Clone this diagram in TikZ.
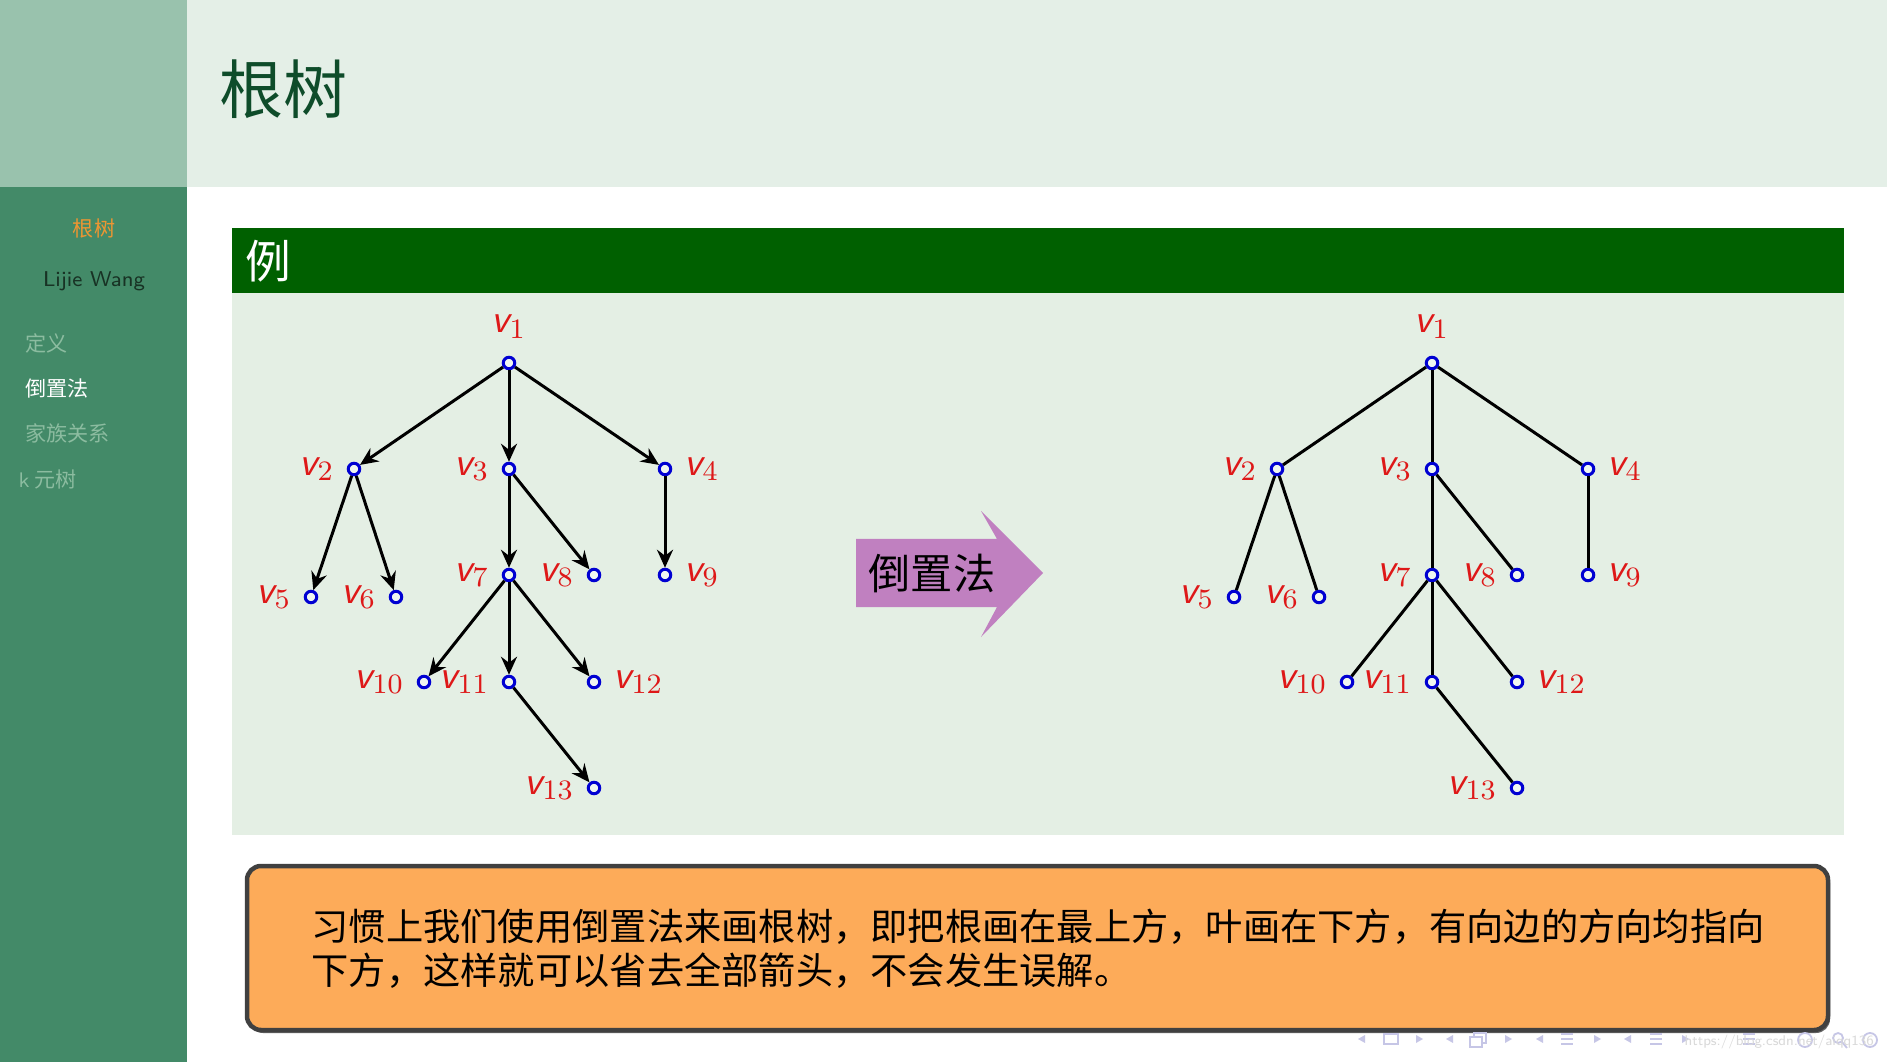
\documentclass[tikz,border=0pt]{standalone}
\usepackage{fontspec}
\newfontfamily\cjk{Noto Sans CJK SC}
\usetikzlibrary{arrows.meta}

\definecolor{sidetop}{RGB}{153,194,173}
\definecolor{sidebot}{RGB}{67,138,104}
\definecolor{headbg}{RGB}{228,239,231}
\definecolor{titlegreen}{RGB}{14,76,42}
\definecolor{blocktitle}{RGB}{0,96,0}
\definecolor{blockbody}{RGB}{228,239,228}
\definecolor{labelred}{RGB}{222,24,24}
\definecolor{nodeblue}{RGB}{0,0,210}
\definecolor{arrowpink}{RGB}{192,128,192}
\definecolor{alertfill}{RGB}{253,171,89}
\definecolor{alertdraw}{RGB}{64,64,64}
\definecolor{navgray}{RGB}{198,198,230}
\definecolor{fadedgreen}{RGB}{140,188,160}
\definecolor{sideorange}{RGB}{236,150,50}
\definecolor{authorink}{RGB}{24,50,36}

\newcommand{\vname}[1]{$\textsf{\itshape v}_{#1}$}

\tikzset{
  vert/.style={circle, draw=nodeblue, line width=0.3mm, fill=white!45!blockbody,
    inner sep=0pt, minimum size=1.15mm},
  vlabel/.style={text=labelred, font=\fontsize{11.4pt}{13pt}\selectfont},
  arrowedge/.style={line width=0.3mm, -{Stealth[length=1.8mm,width=1.6mm,inset=0.6mm]}},
  plainedge/.style={line width=0.3mm},
  sideitem/.style={anchor=west, inner sep=0pt, text=fadedgreen, font=\cjk\fontsize{6pt}{7pt}\selectfont},
}

\begin{document}
\begin{tikzpicture}[x=0.1mm, y=-0.1mm]
    \useasboundingbox (0,0) rectangle (1887,1062);
    \fill[white] (0,0) rectangle (1887,1062);

    % Frame title and sidebar
    \fill[sidetop] (0,0) rectangle (187,187);
    \fill[sidebot] (0,187) rectangle (187,1062);
    \fill[headbg] (187,0) rectangle (1887,187);
    \node[anchor=west, inner sep=0pt, text=titlegreen, font=\cjk\fontsize{18.2pt}{20pt}\selectfont] (title) at (219,89) {根树};

    \node[inner sep=0pt, text=sideorange, font=\cjk\fontsize{6pt}{7pt}\selectfont] (sbtitle) at (94,228) {根树};
    \node[anchor=base, inner sep=0pt, text=authorink, font=\sffamily\fontsize{6.1pt}{7pt}\selectfont] (sbauthor) at (94,287) {Lijie Wang};
    \node[sideitem] (sbdef) at (25,343) {定义};
    \node[sideitem, text=white] (sbinv) at (25,388) {倒置法};
    \node[sideitem] (sbfam) at (25,433) {家族关系};
    \node[sideitem] (sbkary) at (18,479) {{\sffamily k} 元树};

    % Example block
    \fill[blocktitle] (232,228) rectangle (1844,293);
    \fill[blockbody] (232,293) rectangle (1844,835);
    \node[anchor=west, inner sep=0pt, text=white, font=\cjk\fontsize{13pt}{15pt}\selectfont] (blockname) at (245,261) {例};

    % Both trees: a = with arrows, b = drawn upside down
    \foreach \t/\dx in {a/0, b/923} {
        \foreach \n/\x/\y/\p/\d in {1/509/363/above/0.5mm, 2/354/469/left/0pt, 3/509/469/left/0pt, 4/665/469/right/0pt,
                5/311/597/left/0pt, 6/396/597/left/0pt, 7/509/575/left/0pt, 8/594/575/left/0pt, 9/665/575/right/0pt,
                10/424/682/left/0pt, 11/509/682/left/0pt, 12/594/682/right/0pt, 13/594/788/left/0pt} {
            \node[vert, label={[vlabel, label distance=\d]\p:\vname{\n}}] (\t\n) at (\x+\dx,\y) {};
        }
    }
    \foreach \a/\b in {1/2,1/3,1/4,2/5,2/6,3/7,3/8,4/9,7/10,7/11,7/12,11/13} {
        \draw[arrowedge] (a\a) -- (a\b);
        \draw[plainedge] (b\a) -- (b\b);
    }

    % Arrow between the trees
    \fill[arrowpink] (856,539) -- (997,539) -- (981,511) -- (1043,573) -- (981,637) -- (997,607) -- (856,607) -- cycle;
    \node[inner sep=0pt, font=\cjk\fontsize{12pt}{14pt}\selectfont] (invert) at (932,573) {倒置法};

    % Remark box
    \fill[alertdraw!80, rounded corners=1.4mm] (249,869) rectangle (1830,1033);
    \filldraw[fill=alertfill, draw=alertdraw, line width=0.45mm, rounded corners=1.4mm] (247,866) rectangle (1828,1030);
    \node[anchor=west, inner sep=0pt, align=left, font=\cjk\fontsize{10.6pt}{12.4pt}\selectfont] (remark) at (311,949)
        {习惯上我们使用倒置法来画根树，即把根画在最上方，叶画在下方，有向边的方向均指向\\下方，这样就可以省去全部箭头，不会发生误解。};

    % Navigation symbols
    \begin{scope}[navgray]
        \foreach \x in {1362,1450,1540,1628} \fill (\x-4,1039) -- (\x+3,1035) -- (\x+3,1043) -- cycle;
        \foreach \x in {1419,1508,1597,1685} \fill (\x+4,1039) -- (\x-3,1035) -- (\x-3,1043) -- cycle;
        \draw[line width=0.15mm] (1384,1034) rectangle (1398,1044);
        \draw[line width=0.15mm] (1470,1037) rectangle (1482,1047) (1474,1037) -- (1474,1033) -- (1486,1033) -- (1486,1043) -- (1482,1043);
        \foreach \x in {1567,1656,1749}
            \foreach \y in {1034,1039,1044} \draw[line width=0.2mm] (\x-6,\y) -- (\x+6,\y);
        \draw[line width=0.18mm] (1805,1040) circle (7);
        \draw[line width=0.18mm] (1838,1038) circle (5) (1842,1042) -- (1847,1048);
        \draw[line width=0.18mm] (1870,1040) circle (7);
    \end{scope}
    \node[anchor=west, inner sep=0pt, text=gray!30, font=\sffamily\fontsize{4pt}{5pt}\selectfont] (wmark) at (1684,1042) {https://blog.csdn.net/aiqq136};
\end{tikzpicture}
\end{document}
